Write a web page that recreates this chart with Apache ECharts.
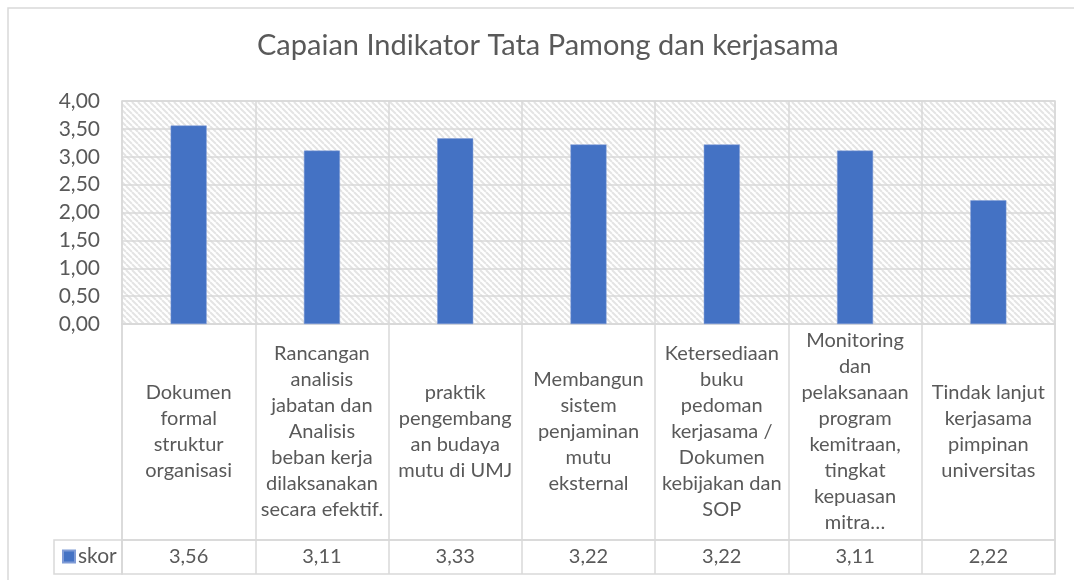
<!DOCTYPE html>
<html>
<head>
<meta charset="utf-8">
<script src="https://cdn.jsdelivr.net/npm/echarts@6/dist/echarts.min.js"></script>
<style>
  html, body { margin: 0; padding: 0; background: #fff; }
  #chart { width: 1074px; height: 580px; }
</style>
</head>
<body>
<div id="chart"></div>
<script>
// data
const categories = [
  'Dokumen\nformal\nstruktur\norganisasi',
  'Rancangan\nanalisis\njabatan dan\nAnalisis\nbeban kerja\ndilaksanakan\nsecara efektif.',
  'praktik\npengembang\nan budaya\nmutu di UMJ',
  'Membangun\nsistem\npenjaminan\nmutu\neksternal',
  'Ketersediaan\nbuku\npedoman\nkerjasama /\nDokumen\nkebijakan dan\nSOP',
  'Monitoring\ndan\npelaksanaan\nprogram\nkemitraan,\ntingkat\nkepuasan\nmitra…',
  'Tindak lanjut\nkerjasama\npimpinan\nuniversitas'
];
const scores = [3.56, 3.11, 3.33, 3.22, 3.22, 3.11, 2.22];
const seriesName = 'skor';
const chartTitle = 'Capaian Indikator Tata Pamong dan kerjasama';

const FONT = 'Lato, "Open Sans", sans-serif';
const TXT = '#595959';
const LINE = '#d9d9d9';
const fmt = v => v.toFixed(2).replace('.', ',');

// hatch pattern for the plot area
const tile = document.createElement('canvas');
tile.width = 6; tile.height = 6;
const tc = tile.getContext('2d');
tc.fillStyle = '#fff';
tc.fillRect(0, 0, 6, 6);
tc.strokeStyle = '#e4e4e4';
tc.lineWidth = 2;
for (let x = -6; x <= 6; x += 6) {
  tc.beginPath();
  tc.moveTo(x, 0);
  tc.lineTo(x + 6, 6);
  tc.stroke();
}

const chart = echarts.init(document.getElementById('chart'));

chart.setOption({
  animation: false,
  textStyle: { fontFamily: FONT },
  title: {
    text: chartTitle,
    left: 252,
    top: 26,
    textStyle: { fontFamily: FONT, fontSize: 29, fontWeight: 'normal', color: TXT }
  },
  legend: {
    left: 62, top: 546, padding: 0,
    icon: 'rect', itemWidth: 12, itemHeight: 12, itemGap: 4,
    textStyle: { fontFamily: FONT, fontSize: 21, color: TXT, padding: [0, 0, 0, -2] },
    data: [seriesName]
  },
  graphic: [
    { type: 'rect', shape: { x: 8, y: 8, width: 1090, height: 600 },
      style: { fill: 'none', stroke: LINE, lineWidth: 1.5 }, silent: true },
    { type: 'rect', shape: { x: 54, y: 540, width: 68, height: 34 },
      style: { fill: 'none', stroke: LINE, lineWidth: 1.5 }, silent: true }
  ],
  grid: [
    { left: 122, top: 101, width: 933, height: 223, show: true,
      backgroundColor: { image: tile, repeat: 'repeat' },
      borderColor: LINE, borderWidth: 1.5 },
    { left: 122, top: 324, width: 933, height: 216, show: true,
      borderColor: LINE, borderWidth: 1.5 },
    { left: 122, top: 540, width: 933, height: 34, show: true,
      borderColor: LINE, borderWidth: 1.5 }
  ],
  xAxis: [
    { type: 'category', gridIndex: 0, data: categories,
      axisLine: { lineStyle: { color: LINE, width: 1.5 } },
      axisTick: { show: false }, axisLabel: { show: false },
      splitLine: { show: true, lineStyle: { color: LINE, width: 1.5 } } },
    { type: 'category', gridIndex: 1, data: categories, position: 'top',
      axisLine: { show: false }, axisTick: { show: false },
      axisLabel: { inside: true, interval: 0, margin: 108, verticalAlign: 'middle',
        fontFamily: FONT, fontSize: 20, lineHeight: 26, color: TXT },
      splitLine: { show: true, lineStyle: { color: LINE, width: 1.5 } } },
    { type: 'category', gridIndex: 2, data: categories, position: 'bottom',
      axisLine: { show: false }, axisTick: { show: false },
      axisLabel: { inside: true, interval: 0, margin: 17, verticalAlign: 'middle',
        fontFamily: FONT, fontSize: 20, color: TXT,
        formatter: (v, i) => fmt(scores[i]) },
      splitLine: { show: true, lineStyle: { color: LINE, width: 1.5 } } }
  ],
  yAxis: [
    { type: 'value', gridIndex: 0, min: 0, max: 4, interval: 0.5,
      axisLine: { show: false }, axisTick: { show: false },
      axisLabel: { margin: 22, fontFamily: FONT, fontSize: 21, color: TXT, formatter: fmt },
      splitLine: { lineStyle: { color: LINE, width: 1.5 } } },
    { type: 'value', gridIndex: 1, show: false },
    { type: 'value', gridIndex: 2, show: false }
  ],
  series: [{
    name: seriesName,
    type: 'bar',
    xAxisIndex: 0, yAxisIndex: 0,
    data: scores,
    barWidth: 36,
    itemStyle: { color: '#4472C4', borderColor: '#7f9bd6', borderWidth: 0.5 }
  }]
});
</script>
</body>
</html>
